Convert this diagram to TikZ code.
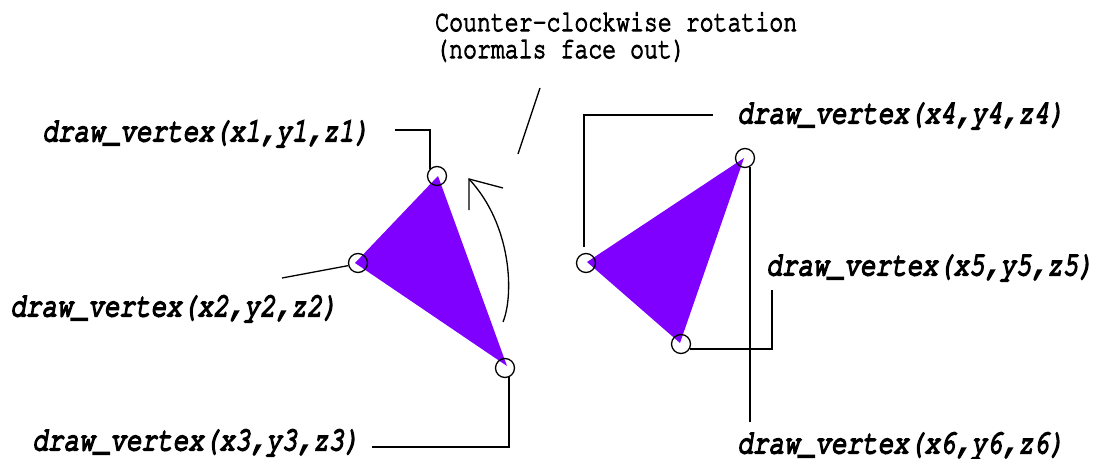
\documentclass[tikz,border=0pt]{standalone}
\usepackage[T1]{fontenc}
\usepackage{courier}
\usepackage{graphicx}
\definecolor{tri}{RGB}{127,0,255}
\newcommand{\vs}[1]{\scalebox{1}[1.28]{#1}}
\newcommand{\heavy}[2]{\special{pdf:literal direct 2 Tr #1 w}#2\special{pdf:literal direct 0 Tr}}
\begin{document}
\begin{tikzpicture}[x=1pt,y=-1pt,
  lbl/.style={inner sep=0pt, font=\fontsize{26}{30}\selectfont\ttfamily\slshape, anchor=west},
  ttl/.style={inner sep=0pt, font=\fontsize{23.2}{28}\selectfont\ttfamily, anchor=base west},
  vtx/.style={circle, draw, line width=1.3pt, minimum size=19pt, inner sep=0pt},
  lead/.style={line width=1.9pt},
  thinl/.style={line width=1.3pt}]
\useasboundingbox (0,0) rectangle (1100,458);
% triangles
\fill[tri] (438,176) -- (355,263) -- (507,366) -- cycle;
\fill[tri] (744,158) -- (587,262) -- (680,343) -- cycle;
% vertex circles
\node[vtx] (c1) at (437,176) {};
\node[vtx] (c2) at (358,263) {};
\node[vtx] (c3) at (505,368) {};
\node[vtx] (c4) at (745,158) {};
\node[vtx] (c5) at (586,263) {};
\node[vtx] (c6) at (681,344) {};
% title
\node[ttl] (t1) at (435,31) {\heavy{0.9}{\vs{Counter-clockwise rotation}}};
\node[ttl] (t2) at (435,58) {\heavy{0.9}{\vs{(normals face out)}}};
% labels
\node[lbl] (l1) at (42,133) {\heavy{1.5}{\vs{draw\_vertex(x1,y1,z1)}}};
\node[lbl] (l2) at (10,308) {\heavy{1.5}{\vs{draw\_vertex(x2,y2,z2)}}};
\node[lbl] (l3) at (32,442) {\heavy{1.5}{\vs{draw\_vertex(x3,y3,z3)}}};
\node[lbl] (l4) at (737,115) {\heavy{1.5}{\vs{draw\_vertex(x4,y4,z4)}}};
\node[lbl] (l5) at (766,267) {\heavy{1.5}{\vs{draw\_vertex(x5,y5,z5)}}};
\node[lbl] (l6) at (737,445) {\heavy{1.5}{\vs{draw\_vertex(x6,y6,z6)}}};
% free ends
\coordinate (e2) at (282,278);
\coordinate (e5) at (772,290);
\coordinate (e6) at (751,422);
\coordinate (tA) at (540,88);
\coordinate (tB) at (518,154);
\coordinate (atip) at (469,179);
\coordinate (atail) at (503,322);
% connectors
\draw[lead] ([xshift=25pt,yshift=3pt]l1.east) -| (c1.135);
\draw[thinl] (e2) -- (c2.195);
\draw[lead] ([xshift=12pt,yshift=-5pt]l3.east) -| (c3.-65);
\draw[lead] ([xshift=-24pt]l4.west) -| ([yshift=6pt]c5.100);
\draw[lead] (c4.-60) -- (c4.-60 |- e6);
\draw[lead] (c6.-30) -| (e5);
\draw[thinl] (tA) -- (tB);
% rotation arrow
\draw[thinl] (atail) .. controls (514,295) and (512,225) .. (atip);
\draw[thinl] ([xshift=34pt,yshift=-9pt]atip) -- (atip) -- ([yshift=-31pt]atip);
\end{tikzpicture}
\end{document}
